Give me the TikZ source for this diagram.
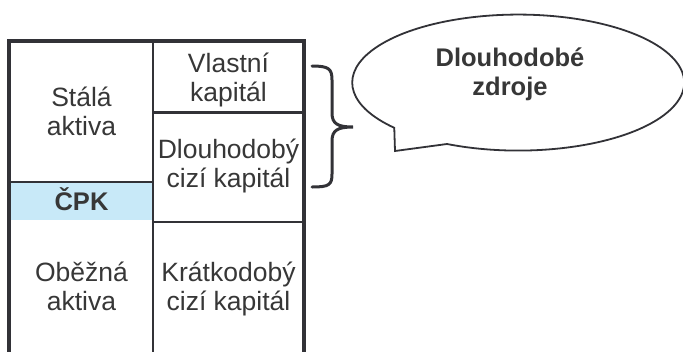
\documentclass[tikz,border=0pt]{standalone}
\usepackage{fontspec}
\setmainfont{Liberation Sans}
\definecolor{ink}{RGB}{50,50,55}
\definecolor{txt}{RGB}{55,55,55}
\definecolor{band}{RGB}{200,233,248}
\begin{document}
\begin{tikzpicture}[x=1pt,y=-1pt,
  cell/.style={font=\fontsize{26.5}{28.3}\selectfont, text=txt, align=center, anchor=base, inner sep=0pt},
  boldcell/.style={cell, font=\fontsize{25.5}{29}\selectfont\bfseries},
  frame/.style={draw=ink, line width=4pt, line join=miter},
  divider/.style={draw=ink, line width=2.5pt},
  bracket/.style={draw=ink, line width=3pt, line cap=round},
  bubble/.style={draw=ink, line width=1.8pt, fill=white, line join=miter}]
\useasboundingbox (0,0) rectangle (683,351);

% working capital band
\fill[band] (9,182) rectangle (153,220);
\draw[ink, line width=1.5pt] (9,182) -- (153,182);

% balance sheet frame, open at the bottom
\draw[frame] (9,356) -- (9,41) -- (304,41) -- (304,356);
\draw[divider] (153,41) -- (153,356);
\draw[divider] (153,112.5) -- (304,112.5);
\draw[divider] (153,222) -- (304,222);

% cell labels (base anchor sits on the last line)
\node[cell] (stala) at (81.5,135) {Stálá\\aktiva};
\node[boldcell] (cpk) at (81.5,210.7) {ČPK};
\node[cell] (obezna) at (81.5,310) {Oběžná\\aktiva};
\node[cell] (vlastni) at (228.5,101) {Vlastní\\kapitál};
\node[cell] (dlouhodoby) at (228.5,187) {Dlouhodobý\\cizí kapitál};
\node[cell] (kratkodoby) at (228.5,310) {Krátkodobý\\cizí kapitál};

% curly bracket over the long-term sources
\draw[bracket] (312,66) .. controls (329,66) and (332,69) .. (332,80)
  -- (332,113) .. controls (332,124) and (338,127) .. (353,127)
  .. controls (338,127) and (332,130) .. (332,141)
  -- (332,174) .. controls (332,185) and (329,187) .. (312,187);

% speech bubble
\draw[bubble] (447,144) arc[start angle=244.6, end angle=581.7, x radius=166pt, y radius=68pt]
  -- (395,151) -- cycle;
\node[boldcell] (zdroje) at (510,95) {Dlouhodobé\\zdroje};
\end{tikzpicture}
\end{document}
